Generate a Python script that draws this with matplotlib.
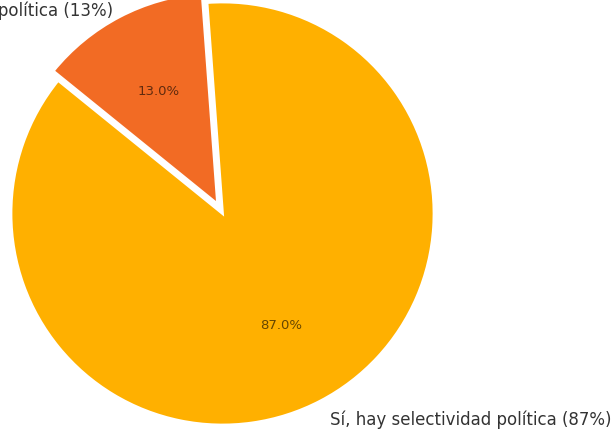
import matplotlib
matplotlib.use("Agg")
import matplotlib.pyplot as plt

labels = ["Sí, hay selectividad política (87%)", "No, no hay selectividad política (13%)"]
values = [87, 13]
colors = ["#FFB000", "#F26B24"]
explode = [0, 0.05]

fig = plt.figure(figsize=(6.15, 4.33), dpi=100)
ax = fig.add_axes([0, 0, 1, 1])

wedges, texts, autotexts = ax.pie(
    values, labels=labels, colors=colors, explode=explode,
    startangle=141, autopct="%1.1f%%", pctdistance=0.6, labeldistance=1.1,
    wedgeprops=dict(edgecolor="white", linewidth=2),
    textprops=dict(fontsize=12, color="#333333"),
)
for t in autotexts:
    t.set_fontsize(9.5)
    t.set_color("black")
    t.set_alpha(0.6)

# small-slice label pulled in so it sits just under the top edge
texts[1].set_position((-0.518, 0.957))

# place the unit circle so 1 unit = 211.5 px, centre at (222.5, 213.5) px from top-left
r = 211.5
cx, cy = 222.5, 213.5
ax.set_aspect("auto")
ax.set_xlim(-cx / r, (615 - cx) / r)
ax.set_ylim(-(433 - cy) / r, cy / r)
ax.axis("off")

fig.savefig("out.png", dpi=100)
